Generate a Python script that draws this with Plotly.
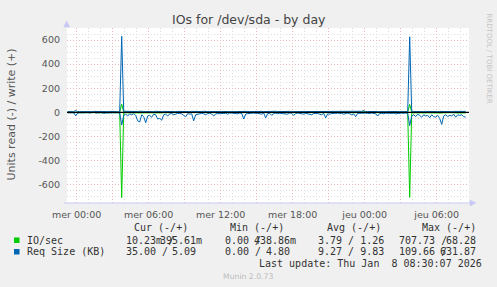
import plotly.graph_objects as go
import pandas as pd

# ---------------- data (10-minute samples, Tue 23:15 -> Thu 08:25) ----------------
times = pd.date_range("2026-01-06 23:15", "2026-01-08 08:25", freq="10min")

# Req Size (KB) read (drawn negative)
req_read = [
    4, 3, 5, 4, 28,
    6, 4, 3, 5, 4, 3,
    6, 4, 0, 5, 7, 4,
    3, 8, 5, 4, 6, 5,
    4, 6, 3, 5, 105, 25,
    15, 30, 12, 20, 10, 25,
    70, 80, 20, 35, 86, 30,
    25, 40, 15, 20, 55, 50,
    65, 20, 15, 30, 12, 10,
    20, 15, 8, 10, 12, 25,
    36, 10, 15, 12, 70, 20,
    15, 10, 8, 12, 20, 10,
    8, 15, 30, 12, 10, 8,
    10, 6, 8, 15, 5, 6,
    8, 10, 12, 6, 8, 55,
    15, 10, 6, 8, 5, 10,
    8, 12, 15, 6, 45, 10,
    8, 25, 10, 6, 12, 8,
    10, 6, 8, 15, 5, 8,
    25, 10, 6, 8, 12, 15,
    8, 12, 15, 20, 10, 8,
    10, 15, 20, 8, 45, 12,
    15, 10, 8, 12, 6, 10,
    8, 15, 10, 6, 12, 20,
    12, 35, 8, 6, 10, 5,
    6, 8, 10, 5, 8, 12,
    30, 10, 8, 12, 6, 10,
    8, 10, 6, 12, 8, 10,
    6, 8, 5, 10, 110, 30,
    20, 35, 15, 25, 40, 20,
    30, 25, 45, 20, 35, 40,
    25, 50, 100, 30, 20, 35,
    25, 30, 15, 40, 20, 25,
    20, 35, 40,
]

# Req Size (KB) write (drawn positive)
req_write = [
    6, 5, 7, 6, 15,
    7, 6, 5, 8, 6, 7,
    5, 6, 8, 7, 6, 5,
    7, 6, 5, 6, 8, 6,
    6, 7, 5, 6, 632, 9,
    8, 6, 7, 9, 6, 8,
    7, 9, 6, 8, 7, 6,
    8, 7, 6, 9, 7, 8,
    6, 8, 7, 6, 9, 7,
    7, 6, 8, 7, 6, 9,
    8, 7, 6, 8, 7, 6,
    6, 8, 7, 9, 6, 7,
    7, 6, 8, 6, 7, 8,
    6, 7, 9, 7, 6, 8,
    8, 6, 7, 8, 6, 7,
    7, 8, 6, 7, 9, 6,
    6, 7, 8, 6, 7, 8,
    8, 6, 7, 9, 6, 7,
    7, 8, 6, 7, 8, 6,
    6, 7, 8, 6, 7, 9,
    8, 6, 7, 8, 6, 7,
    7, 9, 6, 7, 8, 6,
    6, 7, 8, 6, 7, 8,
    8, 6, 7, 9, 6, 12,
    7, 8, 6, 7, 9, 14,
    6, 7, 8, 6, 7, 8,
    7, 6, 8, 7, 6, 7,
    8, 7, 6, 8, 7, 6,
    6, 8, 7, 6, 627, 9,
    7, 6, 8, 7, 9, 6,
    8, 7, 6, 8, 7, 8,
    6, 8, 7, 6, 8, 7,
    7, 6, 8, 7, 6, 8,
    6, 7, 8,
]

# IO/sec read (drawn negative)
io_read = [
    2, 1, 3, 2, 4,
    2, 3, 1, 2, 3, 2,
    1, 2, 3, 2, 1, 2,
    3, 2, 1, 2, 3, 2,
    2, 3, 2, 3, 708, 6,
    4, 3, 5, 4, 3, 4,
    5, 6, 4, 5, 6, 4,
    4, 5, 3, 4, 5, 4,
    5, 3, 4, 3, 2, 3,
    3, 2, 2, 3, 2, 3,
    4, 2, 3, 2, 5, 3,
    2, 3, 2, 2, 3, 2,
    2, 3, 4, 2, 2, 2,
    2, 1, 2, 3, 1, 2,
    2, 2, 3, 1, 2, 4,
    3, 2, 1, 2, 1, 2,
    2, 3, 3, 1, 4, 2,
    2, 3, 2, 1, 3, 2,
    2, 1, 2, 3, 1, 2,
    3, 2, 1, 2, 3, 3,
    2, 3, 3, 4, 2, 2,
    2, 3, 4, 2, 4, 3,
    3, 2, 2, 3, 1, 2,
    2, 3, 2, 1, 3, 4,
    3, 4, 2, 1, 2, 1,
    1, 2, 2, 1, 2, 3,
    4, 2, 2, 3, 1, 2,
    2, 2, 1, 3, 2, 2,
    2, 3, 2, 3, 705, 5,
    4, 5, 3, 4, 5, 4,
    5, 4, 5, 4, 5, 5,
    4, 5, 6, 4, 3, 5,
    4, 5, 3, 5, 4, 4,
    3, 4, 5,
]

# IO/sec write (drawn positive)
io_write = [
    1, 1, 2, 1, 3,
    1, 1, 1, 2, 1, 1,
    1, 1, 2, 1, 1, 1,
    1, 2, 1, 1, 1, 2,
    1, 1, 2, 1, 68, 3,
    2, 1, 1, 2, 1, 1,
    1, 2, 1, 1, 2, 1,
    1, 1, 2, 1, 1, 2,
    1, 1, 1, 2, 1, 1,
    1, 2, 1, 1, 1, 1,
    2, 1, 1, 1, 2, 1,
    1, 1, 2, 1, 1, 1,
    1, 2, 1, 1, 1, 2,
    1, 1, 1, 2, 1, 1,
    2, 1, 1, 1, 1, 2,
    1, 1, 2, 1, 1, 1,
    1, 2, 1, 1, 2, 1,
    1, 1, 1, 2, 1, 1,
    2, 1, 1, 1, 2, 1,
    1, 1, 2, 1, 1, 1,
    1, 2, 1, 1, 1, 2,
    1, 1, 1, 2, 1, 1,
    2, 1, 1, 1, 2, 1,
    1, 1, 2, 1, 1, 3,
    1, 2, 1, 1, 2, 10,
    1, 1, 2, 1, 1, 1,
    2, 1, 1, 1, 2, 1,
    1, 1, 2, 1, 1, 1,
    1, 2, 1, 1, 66, 3,
    2, 1, 1, 2, 1, 1,
    1, 2, 1, 1, 2, 1,
    1, 1, 2, 1, 1, 2,
    1, 1, 1, 2, 1, 1,
    1, 2, 1,
]

tick_times = pd.date_range("2026-01-07 00:00", "2026-01-08 06:00", freq="3h")
tick_text = ["mer 00:00", "", "mer 06:00", "", "mer 12:00", "", "mer 18:00", "",
             "jeu 00:00", "", "jeu 06:00"]
y_ticks = [-600, -400, -200, 0, 200, 400, 600]

legend_rows = [
    ("IO/sec", "#00cc00", [("10.23m /", "395.61m", 203.3), ("0.00 /", "438.86m", 296.7),
                            ("3.79 / 1.26", None, None), ("707.73 /", "68.28", 476.7)]),
    ("Req Size (KB)", "#0066b3", [("35.00 /", "5.09", 196.7), ("0.00 /", "4.80", 290.7),
                                  ("9.27 / 9.83", None, None), ("109.66 /", "631.87", 476.7)]),
]
col_starts = [125.3, 224.0, 316.7, 398.3]
headers = ["Cur (-/+)", "Min (-/+)", "Avg (-/+)", "Max (-/+)"]
header_centers = [160.5, 257.0, 354.0, 449.0]

# ---------------- layout geometry ----------------
W, H = 497, 287
ML, MR, MT, MB = 67, 28, 28, 84
PW, PH = W - ML - MR, H - MT - MB


def px(x):
    return (x - ML) / PW


def py(y):
    return (H - MB - y) / PH


GREEN = "#00cc00"
BLUE = "#0066b3"

fig = go.Figure()
fig.add_trace(go.Scatter(x=times, y=[-v for v in io_read], mode="lines",
                         line=dict(color=GREEN, width=1), hoverinfo="skip"))
fig.add_trace(go.Scatter(x=times, y=io_write, mode="lines",
                         line=dict(color=GREEN, width=1), hoverinfo="skip"))
fig.add_trace(go.Scatter(x=times, y=[-v for v in req_read], mode="lines",
                         line=dict(color=BLUE, width=1), hoverinfo="skip"))
fig.add_trace(go.Scatter(x=times, y=req_write, mode="lines",
                         line=dict(color=BLUE, width=1), hoverinfo="skip"))

fig.add_hline(y=0, line=dict(color="black", width=1.3), layer="above")

tickfont = dict(family="DejaVu Sans", size=9.5, color="#555555")
major_grid = "#ebb8b8"
minor_grid = "#dadada"

fig.update_layout(
    width=W, height=H,
    margin=dict(l=ML, r=MR, t=MT, b=MB, pad=0),
    paper_bgcolor="#f0f0f0",
    plot_bgcolor="#ffffff",
    showlegend=False,
    xaxis=dict(
        type="date",
        range=["2026-01-06 23:11:30", "2026-01-08 08:41:30"],
        tickmode="array", tickvals=tick_times, ticktext=tick_text,
        showgrid=True, gridcolor=major_grid, griddash="1px,2px", gridwidth=1,
        ticks="", showline=False, zeroline=False,
        tickfont=tickfont, automargin=False, ticklabelstandoff=4,
        minor=dict(dtick=3600000, tick0="2026-01-07 00:00", showgrid=True,
                   gridcolor=minor_grid, griddash="1px,2px", gridwidth=1, ticks=""),
    ),
    yaxis=dict(
        range=[-752, 700],
        tickmode="array", tickvals=y_ticks, ticktext=[str(v) for v in y_ticks],
        showgrid=True, gridcolor=major_grid, griddash="1px,2px", gridwidth=1,
        ticks="", showline=False, zeroline=False,
        tickfont=tickfont, automargin=False, ticklabelstandoff=6,
        minor=dict(dtick=50, tick0=0, showgrid=True,
                   gridcolor=minor_grid, griddash="1px,2px", gridwidth=1, ticks=""),
    ),
)

axis_col = "#c8c8f4"
shapes = [
    dict(type="line", xref="paper", yref="paper", x0=px(66.7), x1=px(66.7),
         y0=py(205.5), y1=py(24), line=dict(color=axis_col, width=1.2), layer="above"),
    dict(type="path", xref="paper", yref="paper",
         path=f"M {px(63.7)} {py(27)} L {px(69.7)} {py(27)} L {px(66.7)} {py(21)} Z",
         fillcolor=axis_col, line=dict(color=axis_col, width=0.5), layer="above"),
    dict(type="line", xref="paper", yref="paper", x0=px(63.7), x1=px(473),
         y0=py(203), y1=py(203), line=dict(color=axis_col, width=1.2), layer="above"),
    dict(type="path", xref="paper", yref="paper",
         path=f"M {px(470)} {py(200)} L {px(470)} {py(206)} L {px(476)} {py(203)} Z",
         fillcolor=axis_col, line=dict(color=axis_col, width=0.5), layer="above"),
]

annotations = []


def ann(text, x, y, size, color, family="DejaVu Sans", xanchor="center", angle=0):
    annotations.append(dict(text=text, x=px(x), y=py(y), xref="paper", yref="paper",
                            xanchor=xanchor, yanchor="middle", showarrow=False,
                            textangle=angle, borderpad=0,
                            font=dict(family=family, size=size, color=color)))


ann("IOs for /dev/sda - by day", 248.5, 20, 12.5, "#444444")
ann("Units read (-) / write (+)", 10.5, 115, 11, "#555555", angle=-90)
ann("RRDTOOL / TOBI OETIKER", 488.5, 58, 7, "#c4c4c4", angle=90)

MONO = "DejaVu Sans Mono"
TXT = "#333333"
for h, cx in zip(headers, header_centers):
    ann(h, cx, 227.5, 10, TXT, family=MONO)

row_y = [240, 251.5]
for (name, color, cells), ry in zip(legend_rows, row_y):
    shapes.append(dict(type="rect", xref="paper", yref="paper",
                       x0=px(14), x1=px(19.5), y0=py(ry + 3), y1=py(ry - 2.5),
                       fillcolor=color, line=dict(width=0)))
    ann(name, 26, ry, 10, TXT, family=MONO, xanchor="left")
    for (left, right, rend), cs in zip(cells, col_starts):
        ann(left, cs, ry, 10, TXT, family=MONO, xanchor="left")
        if right is not None:
            ann(right, rend, ry, 10, TXT, family=MONO, xanchor="right")

ann("Last update: Thu Jan  8 08:30:07 2026", 483, 263.7, 10, TXT, family=MONO, xanchor="right")
ann("Munin 2.0.73", 248, 276, 7.7, "#bbbbbb")

fig.update_layout(shapes=shapes, annotations=annotations)
fig.write_html("out.html")
